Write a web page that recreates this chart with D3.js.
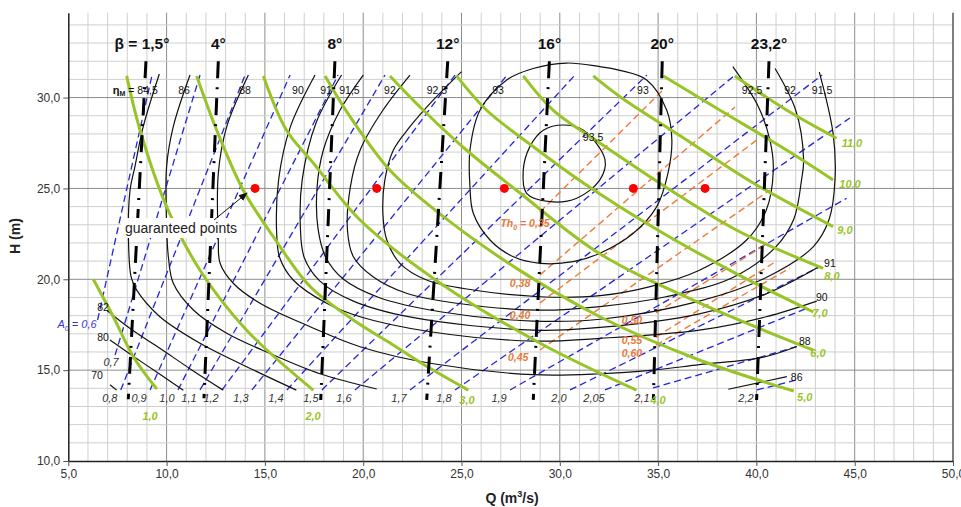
<!DOCTYPE html>
<html>
<head>
<meta charset="utf-8">
<script src="https://cdn.jsdelivr.net/npm/d3@7"></script>
<style>
  body { margin: 0; background: #fff; }
  svg { display: block; }
  text { font-family: Arial, "Liberation Sans", sans-serif; }
</style>
</head>
<body>
<svg width="961" height="507"></svg>
<script>
// axis ticks
const qTicks = [5, 10, 15, 20, 25, 30, 35, 40, 45, 50];
const hTicks = [10, 15, 20, 25, 30];

// blade angle lines (Q,H at bottom and top)
const betaNames = ["β = 1,5°", "4°", "8°", "12°", "16°", "20°", "23,2°"];
const betaBottom = [[8.05, 13.4], [11.9, 13.45], [17.84, 13.36], [23.23, 13.36], [28.65, 13.36], [34.76, 13.36], [40.01, 13.36]];
const betaTop = [[8.95, 32.0], [12.63, 32.0], [18.56, 32.0], [24.3, 32.0], [29.47, 32.0], [35.21, 32.0], [40.64, 32.0]];

// guide vane opening lines A0 (blue dashed)
const openNames = ["0,6", "0,7", "0,8", "0,9", "1,0", "1,1", "1,2", "1,3", "1,4", "1,5", "1,6", "1,7", "1,8", "1,9", "2,0", "2,05", "2,1", "2,2"];
const openStart = [[6.49, 17.76], [7.38, 15.83], [7.67, 13.91], [9.16, 13.91], [10.58, 13.91], [11.7, 13.91], [12.82, 13.91], [14.34, 13.91], [16.12, 13.91], [17.9, 13.91], [19.58, 13.91], [22.38, 13.91], [24.67, 13.91], [27.47, 13.91], [30.52, 13.91], [32.3, 13.91], [34.74, 14.02], [40.03, 13.91]];
const openEnd = [[9.26, 31.24], [11.7, 31.24], [13.99, 31.24], [16.28, 31.24], [18.72, 31.24], [21.11, 31.24], [24.67, 31.24], [27.32, 31.24], [30.77, 31.24], [34.43, 31.24], [38.91, 31.24], [43.34, 31.24], [44.76, 28.88], [44.59, 24.46], [43.23, 20.69], [42.56, 18.4], [42.05, 16.29], [42.05, 14.46]];

// thrust lines Th0 (orange dashed)
const thrustNames = ["0,35", "0,38", "0,40", "0,45", "0,50", "0,55", "0,60"];
const thrustStart = [[28.99, 23.7], [28.99, 20.24], [28.99, 18.7], [28.99, 16.11], [34.89, 18.15], [34.89, 16.82], [34.89, 16.38]];
const thrustEnd = [[35.25, 30.42], [38.91, 29.48], [40.03, 27.67], [40.69, 24.91], [40.44, 21.89], [40.95, 20.95], [41.71, 20.62]];
const thrustLabelAt = [[28.23, 23.1], [27.98, 19.8], [27.98, 18.04], [27.88, 15.72], [33.67, 17.76], [33.67, 16.62], [33.67, 15.95]];

// power lines (green)
const powerNames = ["1,0", "2,0", "3,0", "4,0", "5,0", "6,0", "7,0", "8,0", "9,0", "10,0", "11,0"];
const powerCurves = [
  [[6.27, 20.0], [7.29, 17.94], [8.31, 15.74], [9.5, 13.96]],
  [[7.97, 31.19], [8.65, 28.2], [10.0, 24.0], [11.7, 20.5], [14.07, 17.2], [17.46, 13.9]],
  [[11.53, 31.19], [12.55, 28.2], [13.9, 24.9], [15.43, 22.34], [17.3, 19.6], [19.5, 17.76], [21.5, 16.4], [23.4, 15.1], [25.35, 13.9]],
  [[14.92, 31.19], [16.1, 28.2], [17.46, 26.4], [19.84, 23.26], [23.9, 19.8], [29.0, 16.48], [33.9, 13.9]],
  [[18.06, 31.19], [19.33, 28.95], [21.36, 26.0], [23.9, 23.6], [27.8, 20.6], [32.04, 17.94], [37.0, 15.6], [41.9, 13.85]],
  [[21.36, 31.19], [23.06, 29.3], [25.26, 27.1], [27.8, 24.9], [32.04, 21.4], [37.1, 18.7], [42.9, 16.1]],
  [[24.75, 31.19], [26.28, 29.3], [28.65, 27.3], [31.2, 25.3], [35.0, 22.7], [39.0, 20.3], [42.9, 18.2]],
  [[28.14, 31.19], [29.67, 29.3], [32.04, 27.5], [35.5, 25.0], [39.0, 22.7], [43.4, 20.6]],
  [[31.7, 31.19], [33.06, 30.05], [36.45, 27.67], [39.84, 25.3], [43.9, 22.9]],
  [[35.27, 31.19], [38.15, 29.3], [41.55, 27.1], [43.9, 25.47]],
  [[38.9, 31.19], [41.55, 29.3], [44.08, 27.76]]
];
const powerLabelAt = [[9.16, 12.48], [17.45, 12.48], [25.28, 13.36], [35.0, 13.36], [42.46, 13.52], [43.13, 15.94], [43.23, 18.15], [43.84, 20.15], [44.5, 22.71], [44.76, 25.24], [44.86, 27.5]];

// efficiency contours (black)
const eta935 = [[30.18, 28.49], [31.2, 28.2], [32.3, 26.57], [32.04, 25.47], [30.86, 24.46], [29.5, 24.27], [28.31, 24.73], [28.14, 26.0], [28.48, 27.3], [29.16, 28.2]];
const eta93 = [[30.35, 31.9], [32.04, 31.7], [33.06, 31.5], [34.42, 30.97], [35.44, 29.3], [35.7, 27.67], [35.5, 25.83], [34.93, 24.0], [33.74, 22.53], [32.04, 21.43], [30.68, 20.97], [28.99, 20.88], [27.64, 21.24], [26.45, 22.16], [25.6, 23.63], [25.43, 25.1], [25.43, 27.1], [25.94, 29.3], [27.3, 30.97], [28.65, 31.6]];
const eta925 = [[25.0, 31.43], [23.57, 29.87], [22.38, 28.4], [21.53, 27.1], [21.1, 25.46], [21.0, 23.63], [21.2, 22.16], [21.87, 20.88], [23.23, 19.96], [25.6, 19.41], [28.99, 19.04], [32.04, 19.1], [34.6, 19.6], [37.1, 20.5], [39.5, 22.16], [40.5, 23.8], [40.86, 26.0], [40.7, 27.6], [40.1, 29.5], [38.8, 31.7]];
const eta92 = [[22.38, 31.24], [21.0, 29.3], [19.84, 27.1], [19.35, 25.1], [19.2, 22.7], [19.5, 21.24], [20.5, 20.14], [22.2, 19.23], [24.76, 18.68], [28.99, 18.3], [32.04, 18.5], [35.4, 19.04], [38.8, 20.1], [41.0, 21.8], [41.9, 23.3], [42.3, 25.5], [42.4, 26.6], [42.0, 29.3], [40.95, 31.6]];
const eta915 = [[20.0, 31.24], [18.82, 29.3], [17.97, 27.1], [17.65, 25.0], [17.7, 22.8], [18.1, 21.2], [19.0, 20.0], [20.8, 19.0], [24.0, 18.2], [28.65, 17.7], [32.04, 17.8], [37.1, 18.8], [40.5, 20.1], [42.9, 21.8], [43.7, 23.3], [44.0, 25.5], [43.9, 28.03], [43.2, 31.4]];
const eta91 = [[18.9, 31.24], [17.6, 28.6], [16.9, 25.5], [16.8, 23.0], [17.0, 21.2], [17.8, 19.9], [19.5, 18.8], [22.5, 17.9], [28.65, 17.2], [32.04, 17.35], [37.1, 18.1], [40.5, 19.2], [43.2, 20.7]];
const eta90 = [[17.55, 31.24], [16.3, 28.4], [15.7, 25.5], [15.6, 22.5], [15.75, 21.2], [16.44, 19.96], [18.14, 18.68], [19.84, 17.94], [23.5, 17.1], [28.65, 16.6], [32.04, 16.75], [37.1, 17.2], [40.5, 17.94], [43.07, 18.8]];
const eta88 = [[14.16, 31.24], [13.06, 28.4], [12.63, 25.83], [12.63, 22.16], [12.72, 20.88], [13.39, 19.78], [14.75, 18.68], [17.3, 17.39], [19.84, 16.29], [23.57, 15.35], [28.65, 14.75], [32.04, 14.8], [34.74, 15.0], [37.1, 15.3], [40.3, 15.7], [42.05, 16.3]];
const eta86 = [[11.19, 31.24], [10.34, 28.4], [10.0, 26.2], [10.0, 23.0], [10.09, 21.24], [10.34, 19.78], [11.36, 18.31], [13.06, 17.03], [15.3, 15.9], [17.8, 14.8], [20.69, 13.96]];
const eta86b = [[38.57, 13.95], [41.55, 14.64]];
const eta845 = [[9.63, 31.3], [8.81, 28.4], [8.39, 26.2], [8.14, 24.9], [8.07, 21.8], [8.2, 20.1], [8.48, 19.4], [9.66, 17.94], [11.7, 16.48], [14.07, 15.19], [16.6, 13.9]];
const eta82 = [[6.95, 18.3], [8.2, 17.25], [9.66, 16.2], [11.3, 15.0], [12.88, 13.9]];
const eta80 = [[7.12, 16.66], [8.8, 15.4], [10.85, 13.9]];
const eta70 = [[7.12, 14.2], [7.46, 13.9]];
const openContours = [eta925, eta92, eta915, eta91, eta90, eta88, eta86, eta86b, eta845, eta82, eta80, eta70];
const closedContours = [eta935, eta93];

// contour labels (text, Q, H)
const etaLabels = [
  ["86", 10.89, 30.42], ["88", 13.99, 30.42], ["90", 16.68, 30.42], ["91", 18.11, 30.42],
  ["91,5", 19.3, 30.42], ["92", 21.36, 30.42], ["92,5", 23.75, 30.42], ["93", 26.86, 30.42],
  ["93", 34.23, 30.42], ["92,5", 39.78, 30.42], ["92", 41.71, 30.42], ["91,5", 43.34, 30.42],
  ["93,5", 31.69, 27.83], ["91", 43.74, 20.9], ["90", 43.33, 19.03], ["88", 42.46, 16.6],
  ["86", 42.05, 14.62], ["82", 6.77, 18.48], ["80", 6.77, 16.82], ["70", 6.46, 14.73]
];

// guaranteed operating points
const guaranteedQ = [14.5, 20.69, 27.18, 33.74, 37.39];
const guaranteedH = [25.0, 25.0, 25.0, 25.0, 25.0];

const svg = d3.select("svg");
const x = d3.scaleLinear().domain([5, 50]).range([68.3, 953]);
const y = d3.scaleLinear().domain([10, 34.67]).range([461, 12.7]);
const comma = v => d3.format(".1f")(v).replace(".", ",");

// grid
const grid = svg.append("g");
grid.selectAll("line.v").data(d3.range(6, 50)).enter().append("line")
  .attr("x1", d => x(d)).attr("x2", d => x(d))
  .attr("y1", y(10)).attr("y2", y(34.67))
  .attr("stroke", d => d % 5 === 0 ? "#8c8c8c" : "#cfcfcf").attr("stroke-width", 1);
grid.selectAll("line.h").data(d3.range(11, 35)).enter().append("line")
  .attr("x1", x(5)).attr("x2", x(50))
  .attr("y1", d => y(d)).attr("y2", d => y(d))
  .attr("stroke", d => d % 5 === 0 ? "#8c8c8c" : "#cfcfcf").attr("stroke-width", 1);
grid.append("line").attr("x1", x(50)).attr("x2", x(50)).attr("y1", y(10)).attr("y2", y(34.67))
  .attr("stroke", "#555").attr("stroke-width", 1.5);

// axes
const yAxis = svg.append("g").attr("transform", `translate(${x(5)},0)`)
  .call(d3.axisLeft(y).tickValues(hTicks).tickFormat(comma).tickSize(5).tickSizeOuter(0));
const xAxis = svg.append("g").attr("transform", `translate(0,${y(10)})`)
  .call(d3.axisBottom(x).tickValues(qTicks).tickFormat(comma).tickSize(5).tickSizeOuter(0));
[yAxis, xAxis].forEach(a => {
  a.select(".domain").attr("stroke", "#222").attr("stroke-width", 1.5);
  a.selectAll(".tick line").attr("stroke", "#555");
  a.selectAll("text").attr("font-size", 12).attr("fill", "#333")
    .attr("font-family", "Arial, 'Liberation Sans', sans-serif");
});

svg.append("text").attr("transform", "translate(20,236) rotate(-90)")
  .attr("text-anchor", "middle").attr("font-size", 14).attr("font-weight", "bold").attr("fill", "#222")
  .text("H (m)");
const qt = svg.append("text").attr("x", 512).attr("y", 503).attr("text-anchor", "middle")
  .attr("font-size", 14).attr("font-weight", "bold").attr("fill", "#222");
qt.append("tspan").text("Q (m");
qt.append("tspan").attr("font-size", 9).attr("dy", -6).text("3");
qt.append("tspan").attr("dy", 6).text("/s)");

const line = d3.line().x(d => x(d[0])).y(d => y(d[1])).curve(d3.curveCatmullRom.alpha(0.5));
const loop = d3.line().x(d => x(d[0])).y(d => y(d[1])).curve(d3.curveCatmullRomClosed.alpha(0.5));

// blue opening lines
svg.append("g").selectAll("line").data(openNames).enter().append("line")
  .attr("x1", (d, i) => x(openStart[i][0])).attr("y1", (d, i) => y(openStart[i][1]))
  .attr("x2", (d, i) => x(openEnd[i][0])).attr("y2", (d, i) => y(openEnd[i][1]))
  .attr("stroke", "#2525d8").attr("stroke-width", 1.3).attr("stroke-dasharray", "7,4");

// orange thrust lines
svg.append("g").selectAll("line").data(thrustNames).enter().append("line")
  .attr("x1", (d, i) => x(thrustStart[i][0])).attr("y1", (d, i) => y(thrustStart[i][1]))
  .attr("x2", (d, i) => x(thrustEnd[i][0])).attr("y2", (d, i) => y(thrustEnd[i][1]))
  .attr("stroke", "#ee7a3a").attr("stroke-width", 1.4).attr("stroke-dasharray", "7,4");

// efficiency contours
const cg = svg.append("g").attr("fill", "none").attr("stroke", "#111").attr("stroke-width", 1.2);
cg.selectAll("path.o").data(openContours).enter().append("path").attr("d", line);
cg.selectAll("path.c").data(closedContours).enter().append("path").attr("d", loop);

// power lines
svg.append("g").selectAll("path").data(powerCurves).enter().append("path")
  .attr("d", line).attr("fill", "none").attr("stroke", "#99c428").attr("stroke-width", 3);

// blade angle lines
const bg = svg.append("g");
bg.selectAll("line").data(betaNames).enter().append("line")
  .attr("x1", (d, i) => x(betaTop[i][0])).attr("y1", (d, i) => y(betaTop[i][1]))
  .attr("x2", (d, i) => x(betaBottom[i][0])).attr("y2", (d, i) => y(betaBottom[i][1]))
  .attr("stroke", "#000").attr("stroke-width", 3).attr("stroke-dasharray", "17,9,2,9");
bg.selectAll("text").data(betaNames).enter().append("text")
  .attr("x", (d, i) => x(betaTop[i][0]) - (i === 0 ? 4 : 0)).attr("y", 49)
  .attr("text-anchor", "middle").attr("font-size", 15.5).attr("font-weight", "bold").attr("fill", "#111")
  .text(d => d);

// guaranteed points
svg.append("g").selectAll("circle").data(guaranteedQ).enter().append("circle")
  .attr("cx", d => x(d)).attr("cy", (d, i) => y(guaranteedH[i])).attr("r", 4.5).attr("fill", "#f00");

// labels of contours
const lg = svg.append("g").attr("font-size", 10.5).attr("fill", "#111");
lg.selectAll("text").data(etaLabels).enter().append("text")
  .attr("x", d => x(d[1])).attr("y", d => y(d[2])).attr("dy", "0.35em")
  .attr("text-anchor", "middle").text(d => d[0]);
const eta = lg.append("text").attr("x", x(9.55)).attr("y", y(30.42)).attr("dy", "0.35em").attr("text-anchor", "end");
eta.append("tspan").attr("font-weight", "bold").attr("font-size", 11).text("η");
eta.append("tspan").attr("font-weight", "bold").attr("font-size", 7).attr("dy", 2).text("M");
eta.append("tspan").attr("dy", -2).text(" = 84,5");

// labels of opening lines
const og = svg.append("g").attr("font-size", 11).attr("font-style", "italic").attr("fill", "#333");
og.selectAll("text").data(openNames.slice(1)).enter().append("text")
  .attr("x", (d, i) => openStart[i + 1][1] > 14.5 ? x(openStart[i + 1][0]) - 4 : x(openStart[i + 1][0]) - 11)
  .attr("y", (d, i) => openStart[i + 1][1] > 14.5 ? y(openStart[i + 1][1]) + 11 : 402)
  .attr("text-anchor", "middle").text(d => d);
const a0 = og.append("text").attr("x", x(openStart[0][0]) - 1).attr("y", y(openStart[0][1]) + 8)
  .attr("text-anchor", "end").attr("fill", "#3838d0");
a0.append("tspan").text("A");
a0.append("tspan").attr("font-size", 7).attr("dy", 3).text("0");
a0.append("tspan").attr("dy", -3).text(" = " + openNames[0]);

// labels of thrust lines
const tg = svg.append("g").attr("font-size", 10.5).attr("font-style", "italic").attr("font-weight", "bold")
  .attr("fill", "#e8793a");
tg.selectAll("text").data(thrustNames.slice(1)).enter().append("text")
  .attr("x", (d, i) => x(thrustLabelAt[i + 1][0])).attr("y", (d, i) => y(thrustLabelAt[i + 1][1]))
  .attr("dy", "0.35em").attr("text-anchor", "middle").text(d => d);
const th = tg.append("text").attr("x", x(thrustLabelAt[0][0])).attr("y", y(thrustLabelAt[0][1]))
  .attr("dy", "0.35em").attr("text-anchor", "middle");
th.append("tspan").text("Th");
th.append("tspan").attr("font-size", 7).attr("dy", 3).text("0");
th.append("tspan").attr("dy", -3).text(" = " + thrustNames[0]);

// labels of power lines
svg.append("g").attr("font-size", 11).attr("font-style", "italic").attr("font-weight", "bold").attr("fill", "#99c428")
  .selectAll("text").data(powerNames).enter().append("text")
  .attr("x", (d, i) => x(powerLabelAt[i][0])).attr("y", (d, i) => y(powerLabelAt[i][1]))
  .attr("dy", "0.35em").attr("text-anchor", "middle").text(d => d);

// annotation
svg.append("defs").append("marker").attr("id", "ah").attr("viewBox", "0 0 10 10")
  .attr("refX", 9).attr("refY", 5).attr("markerWidth", 9).attr("markerHeight", 9).attr("orient", "auto")
  .append("path").attr("d", "M0,1 L10,5 L0,9 Z").attr("fill", "#111");
svg.append("rect").attr("x", 121).attr("y", 218).attr("width", 121).attr("height", 20).attr("fill", "#fff");
svg.append("line").attr("x1", 214).attr("y1", 220).attr("x2", 247).attr("y2", 193)
  .attr("stroke", "#111").attr("stroke-width", 1).attr("marker-end", "url(#ah)");
svg.append("text").attr("x", 125).attr("y", 233).attr("font-size", 14).attr("fill", "#222").text("guaranteed points");
</script>
</body>
</html>
